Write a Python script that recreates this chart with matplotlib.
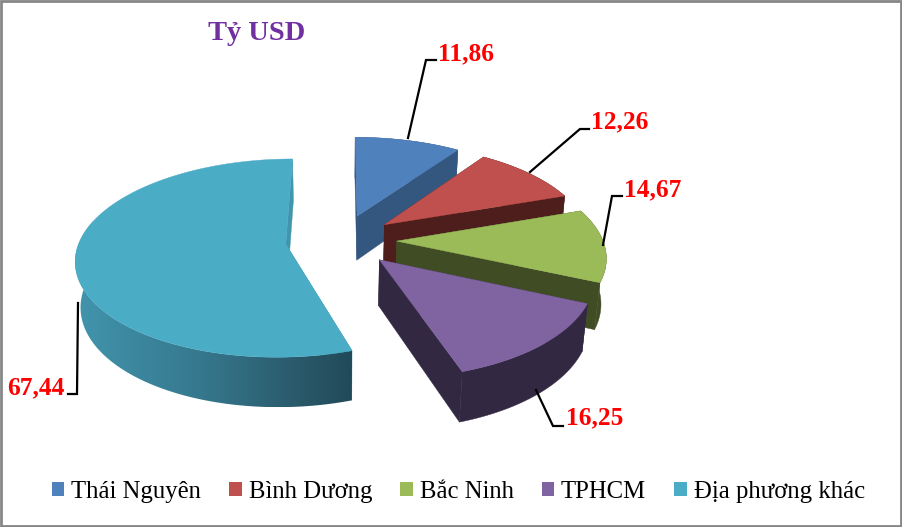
import numpy as np
import matplotlib
matplotlib.use("Agg")
import matplotlib.pyplot as plt
from matplotlib.patches import Polygon, Rectangle
from matplotlib.colors import LinearSegmentedColormap

categories = ["Thái Nguyên", "Bình Dương", "Bắc Ninh", "TPHCM", "Địa phương khác"]
values = [11.86, 12.26, 14.67, 16.25, 67.44]
top_colors = ["#4f81bd", "#c0504d", "#9bbb59", "#8064a2", "#4bacc6"]
side_colors = ["#34577f", "#4e1e1c", "#404d24", "#322842", "#4195ad"]
title = "Tỷ USD"

# scene / projection parameters (pixels)
CX, CY = 341.0, 240.0
A, B, C = 206.0, 96.0, 46.0
K, KZ = 0.14, 0.02
EXPLODE = 0.27
SERIF = "Liberation Serif"

def proj(X, Y, Z):
    p = 1.0 / (1.0 + K * Y - KZ * Z)
    return CX + A * X * p, CY - (B * Y + C * Z) * p

fig = plt.figure(figsize=(9.02, 5.27), dpi=100)
ax = fig.add_axes([0, 0, 1, 1])
ax.axis("off")

total = sum(values)
sweeps = np.array(values) / total * 2 * np.pi
starts = np.concatenate([[0], np.cumsum(sweeps)[:-1]])

wall_cmap = LinearSegmentedColormap.from_list(
    "wall", [(0, "#4195ad"), (0.45, "#36788e"), (0.8, "#2a5a6b"), (1, "#214a59")])

def draw_slice(i, z):
    a0, a1 = starts[i], starts[i] + sweeps[i]
    mid = (a0 + a1) / 2
    ox, oy = EXPLODE * np.sin(mid), EXPLODE * np.cos(mid)
    th = np.linspace(a0, a1, 160)
    ex, ey = ox + np.sin(th), oy + np.cos(th)
    top = [proj(ox, oy, 0)] + [proj(x, y, 0) for x, y in zip(ex, ey)]
    side = side_colors[i]
    # radial walls
    for k in (0, -1):
        w = [proj(ox, oy, 0), proj(ex[k], ey[k], 0), proj(ex[k], ey[k], -1), proj(ox, oy, -1)]
        ax.add_patch(Polygon(w, closed=True, fc=side, ec=side, lw=0.3, zorder=z))
    # outer wall
    if i == 4:
        # shaded wall of the large slice, darkening from left to right
        full = th < a0 + 0.62 * sweeps[i]
        fw = [proj(x, y, 0) for x, y in zip(ex[full], ey[full])] + \
             [proj(x, y, -1) for x, y in zip(ex[full][::-1], ey[full][::-1])]
        patch = Polygon(fw, closed=True, fc="none", ec="none", transform=ax.transData)
        ax.add_patch(patch)
        xs = [p[0] for p in fw]
        ys = [p[1] for p in fw]
        im = ax.imshow(np.linspace(0, 1, 256).reshape(1, -1), cmap=wall_cmap, aspect="auto",
                       extent=(min(xs), max(xs), max(ys), min(ys)), zorder=z + 0.1,
                       interpolation="bilinear")
        im.set_clip_path(patch)
    else:
        wall = [proj(x, y, 0) for x, y in zip(ex, ey)] + \
               [proj(x, y, -1) for x, y in zip(ex[::-1], ey[::-1])]
        ax.add_patch(Polygon(wall, closed=True, fc=side, ec=side, lw=0.3, zorder=z + 0.1))
    ax.add_patch(Polygon(top, closed=True, fc=top_colors[i], ec=top_colors[i], lw=0.3, zorder=z + 0.2))

for z, i in enumerate([0, 1, 2, 4, 3]):
    draw_slice(i, z + 1)

# data labels with leader lines
leaders = [
    ([408, 426, 436], [138, 60, 60], (438, 54), "left"),
    ([530, 580, 589], [172, 129, 129], (591, 122), "left"),
    ([603, 612, 622], [245, 196, 196], (624, 190), "left"),
    ([536, 553, 563], [390, 426, 426], (566, 418), "left"),
    ([78, 77, 68], [303, 394, 394], (64, 388), "right"),
]
for v, (lx, ly, (tx, ty), ha) in zip(values, leaders):
    ax.plot(lx, ly, color="black", lw=1.6, zorder=10, solid_joinstyle="miter")
    ax.text(tx, ty, f"{v:.2f}".replace(".", ","), color="#ff0000", family=SERIF,
            fontweight="bold", fontsize=18.3, ha=ha, va="center", zorder=11)

ax.text(257, 33, title, color="#7030a0", family=SERIF, fontweight="bold",
        fontsize=20.5, ha="center", va="center")

# legend
handles = [Rectangle((0, 0), 1, 1, fc=c, ec="none") for c in top_colors]
leg = ax.legend(handles, categories, ncol=5, loc="center left",
                bbox_to_anchor=(52 / 902, 1 - 492 / 527),
                frameon=False, prop={"family": SERIF, "size": 17.8}, handlelength=0.5, handleheight=0.5,
                handletextpad=0.28, columnspacing=1.14, borderpad=0, borderaxespad=0, labelcolor="black")

# chart border
ax.add_patch(Rectangle((1, 1), 900, 525, fc="none", ec="#868686", lw=2, zorder=20))

ax.set_xlim(0, 902)
ax.set_ylim(527, 0)
fig.savefig("out.png", dpi=100)
